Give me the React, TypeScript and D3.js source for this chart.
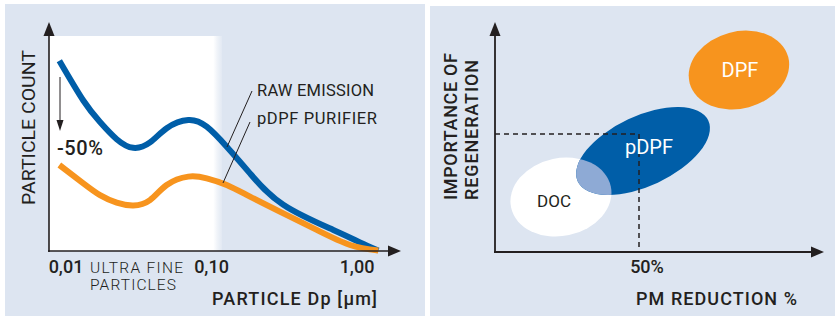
import React from "react";
import * as d3 from "d3";

// ---- Left chart data: particle size distribution (µm, relative count) ----
const rawSize = [0.009, 0.01315, 0.01713, 0.02231, 0.02901, 0.03778, 0.04922, 0.06925, 0.0927, 0.1272, 0.1839, 0.3116, 0.6877, 1.0486, 1.401];
const rawCount = [88.5, 70.0, 60.0, 52.0, 48.0, 50.5, 57.1, 60.9, 57.8, 48.5, 36.1, 21.5, 9.8, 4.0, 0.2];
const pdpfSize = [0.009, 0.01315, 0.01713, 0.02231, 0.02901, 0.03778, 0.04922, 0.06925, 0.0927, 0.1272, 0.1839, 0.3116, 0.5284, 0.8954, 1.401];
const pdpfCount = [40.0, 31.5, 26.0, 22.5, 21.2, 23.7, 30.7, 34.6, 33.8, 30.7, 25.3, 17.5, 9.8, 2.8, 0.2];
const sizeTicks = [0.01, 0.1, 1];
const sizeTickLabels = ["0,01", "0,10", "1,00"];
const seriesNames = ["RAW EMISSION", "pDPF PURIFIER"];

// ---- Right chart data: technologies ----
const techNames = ["DOC", "pDPF", "DPF"];
const pmReduction = [22.9, 51.4, 84.7];
const regenImportance = [23.3, 42.8, 77.1];
const spreadPm = [17.7, 25.0, 17.7];
const spreadRegen = [16.5, 14.8, 16.3];
const tiltDeg = [-12, -25, -15];
const refPm = 50;
const refRegen = 50;

const BG = "#dde5f1";
const INK = "#231f20";
const BLUE = "#005ea8";
const ORANGE = "#f7941e";
const FONT = "Roboto, 'Noto Sans', sans-serif";

export default function App() {
  // left scales
  const x = d3.scaleLog().domain([0.01, 1]).range([66, 357]);
  const y = d3.scaleLinear().domain([0, 100]).range([251, 36]);
  const line = d3
    .line<[number, number]>()
    .x((d) => x(d[0]))
    .y((d) => y(d[1]))
    .curve(d3.curveNatural);
  const rawPath = line(rawSize.map((s, i) => [s, rawCount[i]]))!;
  const pdpfPath = line(pdpfSize.map((s, i) => [s, pdpfCount[i]]))!;

  // right scales
  const px = d3.scaleLinear().domain([0, 100]).range([495, 783]);
  const py = d3.scaleLinear().domain([0, 100]).range([252, 16]);
  const ell = techNames.map((n, i) => ({
    name: n,
    cx: px(pmReduction[i]),
    cy: py(regenImportance[i]),
    rx: px(spreadPm[i]) - px(0),
    ry: py(0) - py(spreadRegen[i]),
    tilt: tiltDeg[i],
  }));
  const [doc, pdpf, dpf] = ell;
  const tf = (e: any) => `translate(${e.cx},${e.cy}) rotate(${e.tilt})`;

  return (
    <svg
      width={835}
      height={318}
      style={{ position: "absolute", left: 0, top: 0, display: "block" }}
      fontFamily={FONT}
    >
      <defs>
        <linearGradient id="fade" x1="0" x2="1" y1="0" y2="0">
          <stop offset="0.95" stopColor="#fff" stopOpacity={1} />
          <stop offset="0.97" stopColor="#fff" stopOpacity={0.6} />
          <stop offset="1" stopColor="#fff" stopOpacity={0.15} />
        </linearGradient>
        <clipPath id="pdpfClip">
          <ellipse transform={tf(pdpf)} cx={0} cy={0} rx={pdpf.rx} ry={pdpf.ry} />
        </clipPath>
      </defs>
      <rect x={0} y={0} width={835} height={318} fill="#fff" />
      {/* panels */}
      <rect x={5} y={4} width={420} height={312} fill={BG} />
      <rect x={430} y={6} width={405} height={310} fill={BG} />

      {/* ===== LEFT CHART ===== */}
      <rect x={49} y={y(100)} width={173} height={y(0) - y(100)} fill="url(#fade)" />
      <path d={rawPath} fill="none" stroke={BLUE} strokeWidth={6} />
      <path d={pdpfPath} fill="none" stroke={ORANGE} strokeWidth={6} />
      {/* axes */}
      <line x1={49} y1={252} x2={49} y2={34} stroke={INK} strokeWidth={1.6} />
      <path d="M49,22 L54.5,36 L43.5,36 Z" fill={INK} />
      <line x1={48} y1={251} x2={390} y2={251} stroke={INK} strokeWidth={1.6} />
      <path d="M401,251 L388,245.5 L388,256.5 Z" fill={INK} />
      {/* -50% arrow */}
      <line x1={60} y1={77} x2={60} y2={122} stroke={INK} strokeWidth={1} />
      <path d="M60,131 L56.5,120 L63.5,120 Z" fill={INK} />
      <text x={57} y={155} fontSize={20} fontWeight={500} fill={INK} textLength={46} lengthAdjust="spacing">-50%</text>
      {/* leader lines */}
      <line x1={252} y1={91} x2={227} y2={147} stroke={INK} strokeWidth={1} />
      <line x1={250} y1={122} x2={223} y2={183} stroke={INK} strokeWidth={1} />
      <text x={257} y={96} fontSize={16.5} fill={INK} textLength={117} lengthAdjust="spacing">{seriesNames[0]}</text>
      <text x={257} y={124} fontSize={16.5} fill={INK} textLength={120} lengthAdjust="spacing">{seriesNames[1]}</text>
      {/* ticks */}
      {sizeTicks.map((t, i) => (
        <text key={t} x={x(t)} y={273} fontSize={18} fontWeight={500} textAnchor="middle" fill={INK}>
          {sizeTickLabels[i]}
        </text>
      ))}
      <text x={90} y={273} fontSize={15.5} fontWeight={300} fill={INK} textLength={93} lengthAdjust="spacing">ULTRA FINE</text>
      <text x={90} y={290} fontSize={15.5} fontWeight={300} fill={INK} textLength={86} lengthAdjust="spacing">PARTICLES</text>
      <text x={212} y={305} fontSize={18} fontWeight={500} fill={INK} textLength={165} lengthAdjust="spacing">PARTICLE Dp [µm]</text>
      <text transform="translate(34.5,205) rotate(-90)" fontSize={19} fill={INK} textLength={155} lengthAdjust="spacingAndGlyphs">PARTICLE COUNT</text>

      {/* ===== RIGHT CHART ===== */}
      <ellipse transform={tf(dpf)} rx={dpf.rx} ry={dpf.ry} fill={ORANGE} />
      <ellipse transform={tf(doc)} rx={doc.rx} ry={doc.ry} fill="#fff" />
      <ellipse transform={tf(pdpf)} rx={pdpf.rx} ry={pdpf.ry} fill={BLUE} />
      <g clipPath="url(#pdpfClip)">
        <ellipse transform={tf(doc)} rx={doc.rx} ry={doc.ry} fill="#8eaad5" />
      </g>
      {/* dashed reference */}
      <path
        d={`M${px(0)},${py(refRegen)} L${px(refPm)},${py(refRegen)} L${px(refPm)},${py(0)}`}
        fill="none"
        stroke={INK}
        strokeWidth={1.5}
        strokeDasharray="5,4"
      />
      {/* axes */}
      <line x1={495} y1={253} x2={495} y2={34} stroke={INK} strokeWidth={1.8} />
      <path d="M495,22 L500.5,36 L489.5,36 Z" fill={INK} />
      <line x1={494} y1={252} x2={812} y2={252} stroke={INK} strokeWidth={1.8} />
      <path d="M824,252 L811,246.5 L811,257.5 Z" fill={INK} />
      <text x={dpf.cx + 1} y={77} fontSize={20} fill="#fff" textAnchor="middle">DPF</text>
      <text x={649} y={154} fontSize={20} fill="#fff" textAnchor="middle">pDPF</text>
      <text x={554} y={207} fontSize={17} fill={INK} textAnchor="middle">DOC</text>
      <text x={px(refPm) + 8} y={273} fontSize={18} fontWeight={500} fill={INK} textAnchor="middle">50%</text>
      <text x={636} y={305} fontSize={18} fontWeight={500} fill={INK} textLength={161} lengthAdjust="spacing">PM REDUCTION %</text>
      <text transform="translate(457,200) rotate(-90)" fontSize={18} fontWeight={500} fill={INK} textLength={147} lengthAdjust="spacing">IMPORTANCE OF</text>
      <text transform="translate(478,200) rotate(-90)" fontSize={18} fontWeight={500} fill={INK} textLength={140} lengthAdjust="spacing">REGENERATION</text>
    </svg>
  );
}
